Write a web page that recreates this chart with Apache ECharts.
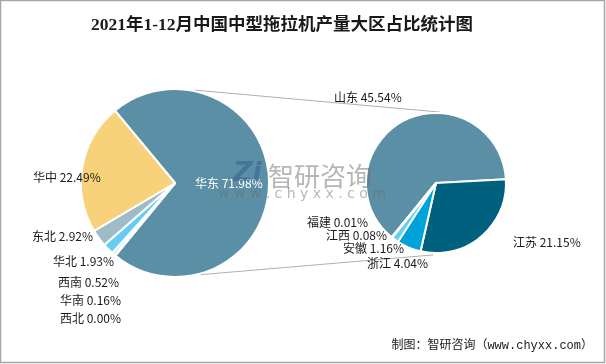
<!DOCTYPE html>
<html><head><meta charset="utf-8">
<script src="https://cdn.jsdelivr.net/npm/echarts@6/dist/echarts.min.js"></script>
<style>html,body{margin:0;padding:0;background:#fff;}#c{width:606px;height:364px;}</style>
</head><body><div id="c"></div>
<script>
// ---- data ----
var regionNames = ['华东', '西北', '华南', '西南', '华北', '东北', '华中'];
var regionValues = [71.98, 0.00, 0.16, 0.52, 1.93, 2.92, 22.49];
var provNames = ['山东', '江苏', '浙江', '安徽', '江西', '福建'];
var provValues = [45.54, 21.15, 4.04, 1.16, 0.08, 0.01];
var titleText = '2021年1-12月中国中型拖拉机产量大区占比统计图';
var sourceText = '制图：智研咨询（www.chyxx.com）';

// ---- styling / layout (not data) ----
var regionColors = ['#5B8FA6', '#E4F3FA', '#CDEBF7', '#A9DDF2', '#66CCF2', '#9EBCC8', '#F7D27B'];
var provColors = ['#5B8FA6', '#00617F', '#00A3D9', '#66CCF2', '#A9DDF2', '#CDEBF7'];
var L = {cx: 175, cy: 183, r: 94};
var R = {cx: 436, cy: 183, r: 70};
// label anchors (left edge, vertical middle)
var regionLabelPos = [[195, 183], [60, 318], [60, 300], [58, 282], [53, 261], [32, 236], [33, 177]];
var provLabelPos = [[334, 97], [513, 242], [367, 263], [343, 248], [326, 235], [307, 222]];

function mk(names, values, colors) {
  return names.map(function (n, i) {
    return {name: n, value: values[i], itemStyle: {color: colors[i]}};
  });
}
function pt(c, ang, rr) {
  var a = ang * Math.PI / 180;
  return [c.cx + Math.cos(a) * rr, c.cy - Math.sin(a) * rr];
}
var fmt = function (p) { return p.name + ' ' + p.value.toFixed(2) + '%'; };
var labelFont = "'Noto Sans CJK SC', sans-serif";

var chart = echarts.init(document.getElementById('c'), null, {renderer: 'canvas'});
chart.setOption({
  backgroundColor: '#fff',
  animation: false,
  series: [
    {
      type: 'pie', center: [L.cx, L.cy], radius: L.r, startAngle: 129.7, clockwise: true,
      avoidLabelOverlap: false,
      itemStyle: {borderColor: '#fff', borderWidth: 2},
      label: {show: true, position: 'outside', formatter: fmt, fontSize: 12, color: '#1a1a1a', fontFamily: labelFont},
      labelLine: {show: false},
      labelLayout: function (p) {
        var q = regionLabelPos[p.dataIndex];
        return {x: q[0], y: q[1], align: 'left', verticalAlign: 'middle'};
      },
      data: mk(regionNames, regionValues, regionColors).map(function (d, i) {
        if (i === 0) d.label = {color: '#fff', fontSize: 12};
        return d;
      })
    },
    {
      type: 'pie', center: [R.cx, R.cy], radius: R.r, startAngle: 230.8, clockwise: true,
      avoidLabelOverlap: false,
      itemStyle: {borderColor: '#fff', borderWidth: 2},
      label: {show: true, position: 'outside', formatter: fmt, fontSize: 12, color: '#1a1a1a', fontFamily: labelFont},
      labelLine: {show: false},
      labelLayout: function (p) {
        var q = provLabelPos[p.dataIndex];
        return {x: q[0], y: q[1], align: 'left', verticalAlign: 'middle'};
      },
      data: mk(provNames, provValues, provColors)
    }
  ],
  graphic: [
    {type: 'rect', shape: {x: 0.5, y: 0.5, width: 604, height: 362}, style: {fill: 'none', stroke: '#a6a6a6', lineWidth: 1.5}, silent: true, z: 100},
    {type: 'polyline', shape: {points: [pt(L, 77.9, L.r + 1), pt(R, 86.8, R.r + 1)]}, style: {stroke: '#b0b0b0', lineWidth: 1, fill: 'none'}, z: 1},
    {type: 'polyline', shape: {points: [pt(L, -74.9, L.r + 1), pt(R, -92.4, R.r + 2)]}, style: {stroke: '#b0b0b0', lineWidth: 1, fill: 'none'}, z: 1},
    {type: 'text', x: 282, y: 25, style: {text: titleText, fill: '#1a1a1a', font: "bold 17.5px 'Liberation Serif', 'Noto Sans CJK SC'", textAlign: 'center', textVerticalAlign: 'middle'}, z: 100},
    {type: 'text', x: 593, y: 346, style: {text: sourceText, fill: '#1a1a1a', font: "12px 'Liberation Mono', 'Noto Sans CJK SC'", textAlign: 'right', textVerticalAlign: 'middle'}, z: 100},
    {type: 'text', x: 233, y: 174, style: {text: 'Zi', fill: 'rgba(40,80,130,0.4)', font: "bold italic 27px 'DejaVu Sans'", textAlign: 'left', textVerticalAlign: 'middle'}, z: 100},
    {type: 'text', x: 320, y: 176, style: {text: '智研咨询', fill: 'rgba(110,110,110,0.5)', font: "26px 'Noto Sans CJK SC'", textAlign: 'center', textVerticalAlign: 'middle'}, z: 100},
    {type: 'text', x: 302, y: 194, style: {text: 'w w w . c h y x x . c o m', fill: 'rgba(110,110,110,0.5)', font: "14px 'DejaVu Sans'", textAlign: 'center', textVerticalAlign: 'middle'}, z: 100}
  ]
});
</script></body></html>
